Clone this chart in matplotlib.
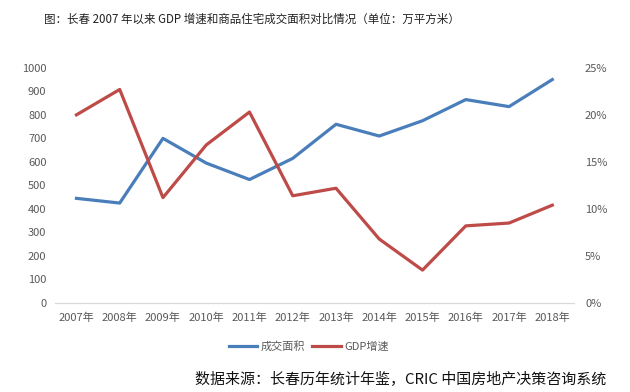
import matplotlib
matplotlib.use("Agg")
import matplotlib.pyplot as plt
from matplotlib.ticker import FuncFormatter

plt.rcParams["font.family"] = ["Noto Sans CJK SC", "DejaVu Sans"]

years = ["2007年", "2008年", "2009年", "2010年", "2011年", "2012年",
         "2013年", "2014年", "2015年", "2016年", "2017年", "2018年"]
area = [445, 425, 700, 595, 525, 615, 760, 710, 775, 865, 835, 950]
gdp = [20.0, 22.7, 11.2, 16.8, 20.3, 11.4, 12.2, 6.8, 3.5, 8.2, 8.5, 10.4]

blue = "#4a7ebb"
red = "#be4b48"
grey = "#595959"

fig = plt.figure(figsize=(6.3, 3.92), dpi=100)
ax = fig.add_axes([0.087, 0.227, 0.824, 0.600])
ax2 = ax.twinx()

x = range(len(years))
l1, = ax.plot(x, area, color=blue, lw=2.3, label="成交面积")
l2, = ax2.plot(x, gdp, color=red, lw=2.3, label="GDP增速")

ax.set_xlim(-0.5, len(years) - 0.5)
ax.set_ylim(0, 1000)
ax.set_yticks(range(0, 1001, 100))
ax2.set_ylim(0, 25)
ax2.set_yticks(range(0, 26, 5))
ax2.yaxis.set_major_formatter(FuncFormatter(lambda v, p: f"{v:.0f}%"))

ax.set_xticks(list(x))
ax.set_xticklabels(years)

for a in (ax, ax2):
    for s in ("top", "left", "right"):
        a.spines[s].set_visible(False)
    a.spines["bottom"].set_color("#d9d9d9")
    a.tick_params(length=0, labelsize=8, colors=grey)
ax.tick_params(axis="y", pad=6)
ax2.tick_params(axis="y", pad=8)
ax.tick_params(axis="x", pad=7)

fig.text(0.40, 0.951, "图：长春 2007 年以来 GDP 增速和商品住宅成交面积对比情况（单位：万平方米）",
         ha="center", va="center", fontsize=8.3, color="#222222")

fig.legend(handles=[l1, l2], loc="center", bbox_to_anchor=(0.49, 0.115),
           ncol=2, frameon=False, fontsize=8, handlelength=2.6,
           handletextpad=0.3, columnspacing=0.6, labelcolor=grey)

fig.text(0.962, 0.035, "数据来源：长春历年统计年鉴，CRIC 中国房地产决策咨询系统",
         ha="right", va="center", fontsize=10.8, color="#111111")

fig.savefig("out.png", dpi=100)
